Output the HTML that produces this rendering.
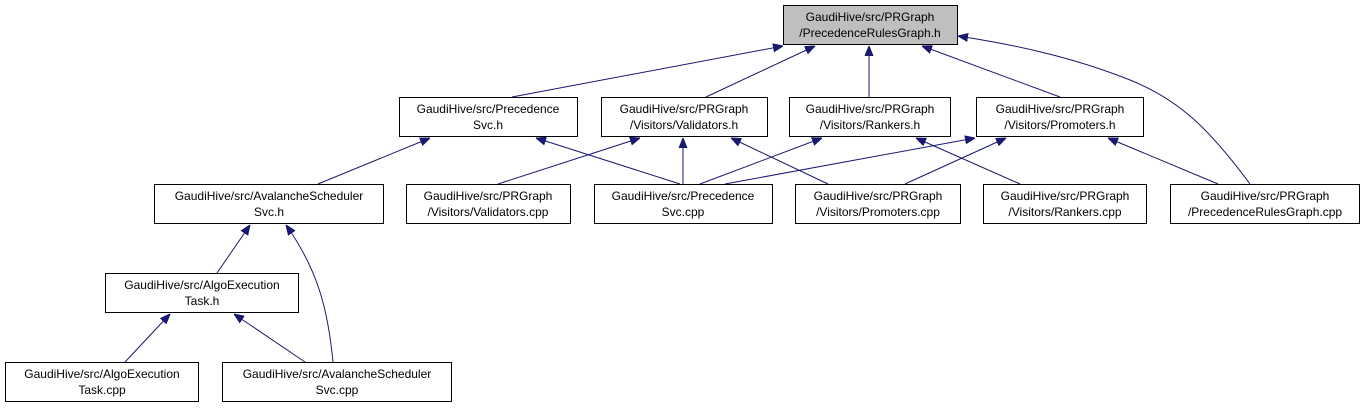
<!DOCTYPE html>
<html><head><meta charset="utf-8"><style>
html,body{margin:0;padding:0;background:#fff;}
svg{display:block;}
text{font-family:"Liberation Sans",sans-serif;font-size:12px;fill:#000;text-anchor:middle;}
rect{fill:#fff;stroke:#000;stroke-width:1;}
path{fill:none;stroke:#191970;stroke-width:1;}
</style></head><body>
<svg width="1365" height="409" viewBox="0 0 1365 409">
<defs><marker id="a" viewBox="0 0 10 10" refX="10" refY="5" markerWidth="10" markerHeight="10" markerUnits="userSpaceOnUse" orient="auto"><path d="M0,1 L10,5 L0,9 Z" style="fill:#191970;stroke:#191970"/></marker></defs>
<g>
<path marker-end="url(#a)" d="M512,97 L783,46"/>
<path marker-end="url(#a)" d="M706,97 L815,46"/>
<path marker-end="url(#a)" d="M869,97 L869,46"/>
<path marker-end="url(#a)" d="M1060,97 L922,46"/>
<path marker-end="url(#a)" d="M1250,184 C1210,130 1180,100 1130,80 C1070,56 1010,44 958,36"/>
<path marker-end="url(#a)" d="M318,184 L430,138"/>
<path marker-end="url(#a)" d="M680,184 L536,138"/>
<path marker-end="url(#a)" d="M498,184 L640,138"/>
<path marker-end="url(#a)" d="M683,184 L683,138"/>
<path marker-end="url(#a)" d="M828,184 L731,138"/>
<path marker-end="url(#a)" d="M700,184 L822,138"/>
<path marker-end="url(#a)" d="M1020,184 L916,138"/>
<path marker-end="url(#a)" d="M725,184 L975,138"/>
<path marker-end="url(#a)" d="M905,184 L1006,138"/>
<path marker-end="url(#a)" d="M1218,184 L1108,138"/>
<path marker-end="url(#a)" d="M217,273 L250,225"/>
<path marker-end="url(#a)" d="M333,362 C328,310 318,270 286,225"/>
<path marker-end="url(#a)" d="M125,362 L170,314"/>
<path marker-end="url(#a)" d="M305,362 L234,314"/>
</g>
<rect x="783.5" y="5.5" width="174" height="39" style="fill:#bfbfbf"/>
<text x="870" y="21">GaudiHive/src/PRGraph</text><text x="870" y="37">/PrecedenceRulesGraph.h</text>

<rect x="399.5" y="97.5" width="178" height="39"/>
<text x="488" y="113">GaudiHive/src/Precedence</text><text x="488" y="129">Svc.h</text>
<rect x="601.5" y="97.5" width="166" height="39"/>
<text x="684" y="113">GaudiHive/src/PRGraph</text><text x="684" y="129">/Visitors/Validators.h</text>
<rect x="789.5" y="97.5" width="161" height="39"/>
<text x="870" y="113">GaudiHive/src/PRGraph</text><text x="870" y="129">/Visitors/Rankers.h</text>
<rect x="976.5" y="97.5" width="167" height="39"/>
<text x="1060" y="113">GaudiHive/src/PRGraph</text><text x="1060" y="129">/Visitors/Promoters.h</text>

<rect x="154.5" y="184.5" width="229" height="39"/>
<text x="269" y="200">GaudiHive/src/AvalancheScheduler</text><text x="269" y="216">Svc.h</text>
<rect x="406.5" y="184.5" width="164" height="39"/>
<text x="488" y="200">GaudiHive/src/PRGraph</text><text x="488" y="216">/Visitors/Validators.cpp</text>
<rect x="594.5" y="184.5" width="178" height="39"/>
<text x="683" y="200">GaudiHive/src/Precedence</text><text x="683" y="216">Svc.cpp</text>
<rect x="795.5" y="184.5" width="165" height="39"/>
<text x="878" y="200">GaudiHive/src/PRGraph</text><text x="878" y="216">/Visitors/Promoters.cpp</text>
<rect x="983.5" y="184.5" width="163" height="39"/>
<text x="1065" y="200">GaudiHive/src/PRGraph</text><text x="1065" y="216">/Visitors/Rankers.cpp</text>
<rect x="1170.5" y="184.5" width="189" height="39"/>
<text x="1265" y="200">GaudiHive/src/PRGraph</text><text x="1265" y="216">/PrecedenceRulesGraph.cpp</text>

<rect x="105.5" y="273.5" width="193" height="39"/>
<text x="202" y="289">GaudiHive/src/AlgoExecution</text><text x="202" y="305">Task.h</text>

<rect x="5.5" y="362.5" width="193" height="39"/>
<text x="102" y="378">GaudiHive/src/AlgoExecution</text><text x="102" y="394">Task.cpp</text>
<rect x="222.5" y="362.5" width="229" height="39"/>
<text x="337" y="378">GaudiHive/src/AvalancheScheduler</text><text x="337" y="394">Svc.cpp</text>
</svg>
</body></html>
